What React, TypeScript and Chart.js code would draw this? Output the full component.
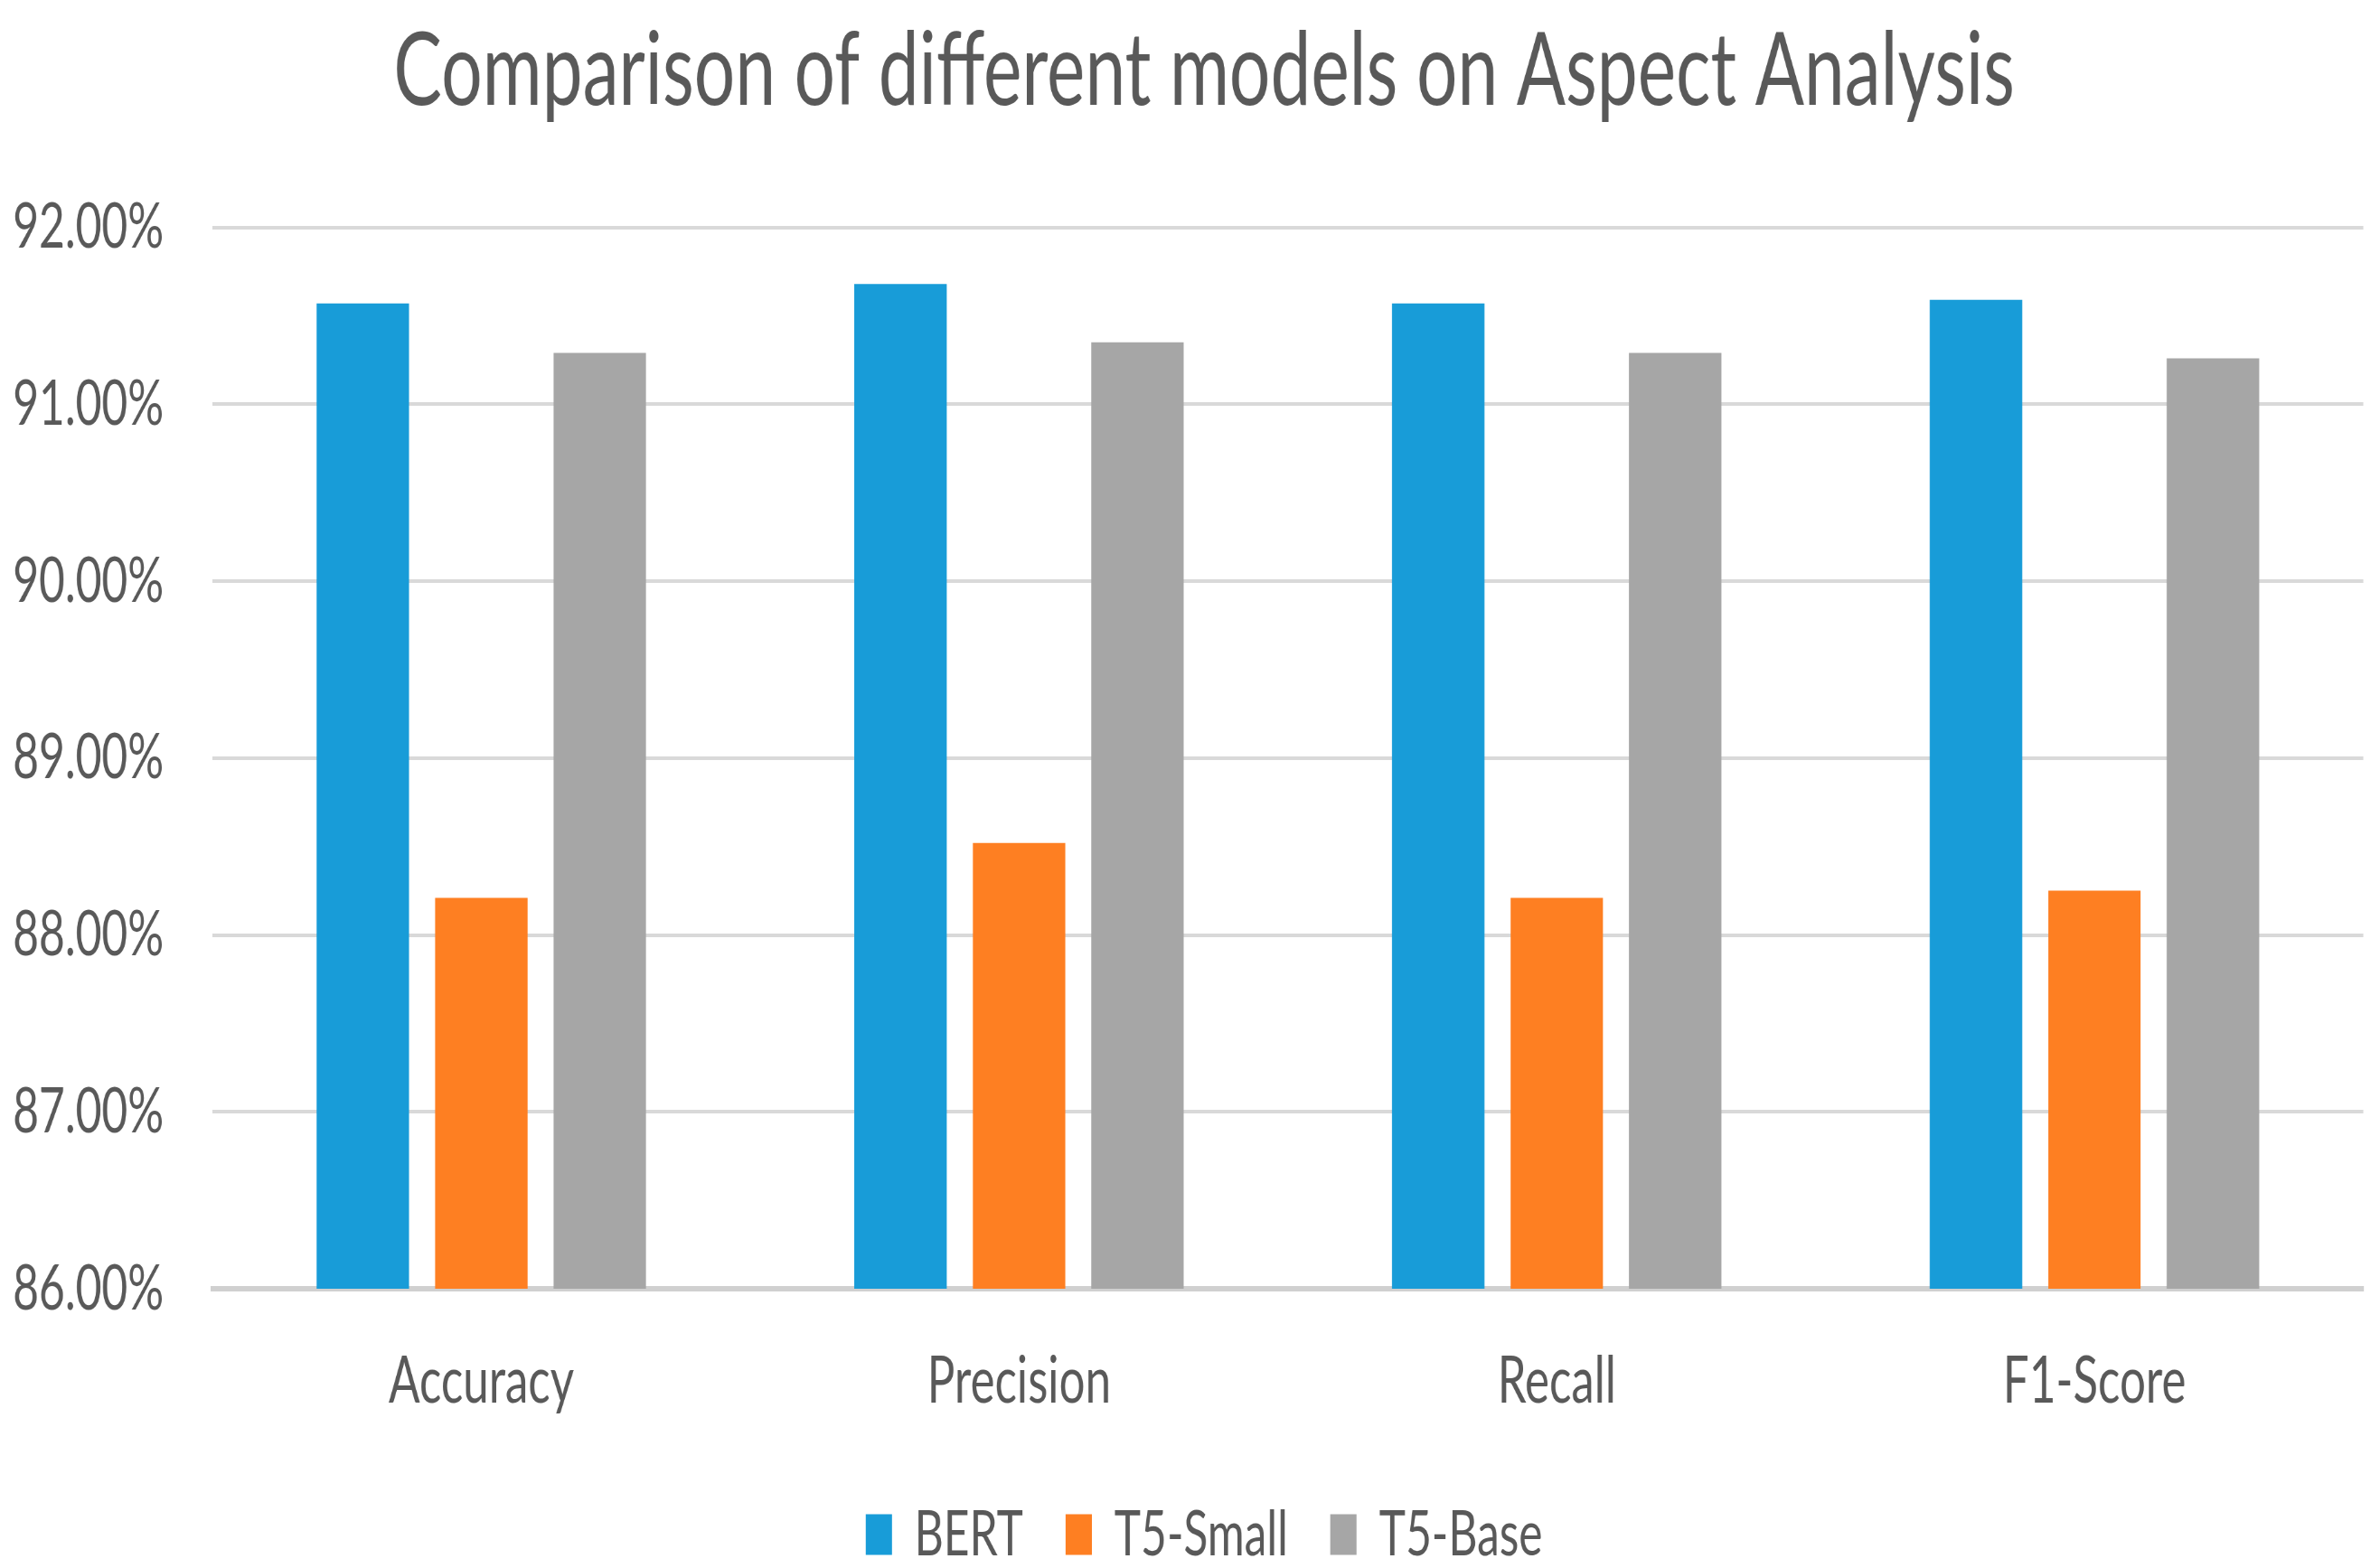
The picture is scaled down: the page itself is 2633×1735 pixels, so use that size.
import React, { useEffect, useRef } from "react";
import { Chart, registerables } from "chart.js";

Chart.register(...registerables);

const titleText = "Comparison of different models on Aspect Analysis";
const categories = ["Accuracy", "Precision", "Recall", "F1-Score"];
const seriesNames = ["BERT", "T5-Small", "T5-Base"];
const bertValues = [91.57, 91.68, 91.57, 91.59];
const t5SmallValues = [88.21, 88.52, 88.21, 88.25];
const t5BaseValues = [91.29, 91.35, 91.29, 91.26];
const seriesColors = ["#189CD8", "#FE7F22", "#A6A6A6"];
const yMin = 86;
const yMax = 92;
const yStep = 1;

const W = 2633;
const H = 1735;
const SX = 0.71; // horizontal compression of the rendered canvas
const IW = Math.round(W / SX);

export default function App() {
  const ref = useRef<HTMLCanvasElement | null>(null);

  useEffect(() => {
    const canvas = ref.current;
    if (!canvas) return;
    const fam = "Lato, 'Noto Sans', sans-serif";
    const widenYAxis = {
      id: "widenYAxis",
      afterLayout(chart: any) {
        if (chart.scales.y) chart.scales.y.left = 0;
      },
    };
    const chart = new Chart(canvas, {
      type: "bar",
      data: {
        labels: categories,
        datasets: [
          { label: seriesNames[0], data: bertValues, backgroundColor: seriesColors[0], borderWidth: 0 },
          { label: seriesNames[1], data: t5SmallValues, backgroundColor: seriesColors[1], borderWidth: 0 },
          { label: seriesNames[2], data: t5BaseValues, backgroundColor: seriesColors[2], borderWidth: 0 },
        ],
      },
      plugins: [widenYAxis],
      options: {
        responsive: false,
        animation: false,
        devicePixelRatio: 1,
        layout: { padding: { left: 70, right: 26, top: 0, bottom: -8 } },
        datasets: {
          bar: { categoryPercentage: 0.661, barPercentage: 0.78 },
        },
        plugins: {
          title: {
            display: true,
            text: titleText,
            color: "#595959",
            font: { family: fam, size: 113, weight: "normal", lineHeight: 1.2 },
            padding: { top: 12, bottom: 104 },
          },
          legend: {
            display: true,
            position: "bottom",
            labels: {
              color: "#595959",
              font: { family: fam, size: 70, lineHeight: 1.2 },
              boxWidth: 41,
              boxHeight: 45,
              padding: 66,
            },
          },
          tooltip: { enabled: false },
        },
        scales: {
          x: {
            grid: { display: false, drawTicks: false },
            border: { display: true, color: "#D0D0D0", width: 6 },
            ticks: {
              color: "#595959",
              font: { family: fam, size: 72, lineHeight: 1.2 },
              padding: 60,
            },
            afterFit: (scale: any) => {
              scale.height = 171;
            },
          },
          y: {
            min: yMin,
            max: yMax,
            grid: { color: "#D9D9D9", lineWidth: 4, drawTicks: false },
            border: { display: false },
            ticks: {
              stepSize: yStep,
              color: "#595959",
              font: { family: fam, size: 70, lineHeight: 1.2 },
              padding: 76,
              callback: (v: any) => Number(v).toFixed(2) + "%",
            },
            afterFit: (scale: any) => {
              scale.width = 261;
            },
          },
        },
      },
    });
    return () => chart.destroy();
  }, []);

  return (
    <div style={{ position: "absolute", left: 0, top: 0, width: W, height: H, background: "#fff" }}>
      <canvas
        ref={ref}
        width={IW}
        height={H}
        style={{ width: W + "px", height: H + "px", display: "block" }}
      />
    </div>
  );
}
